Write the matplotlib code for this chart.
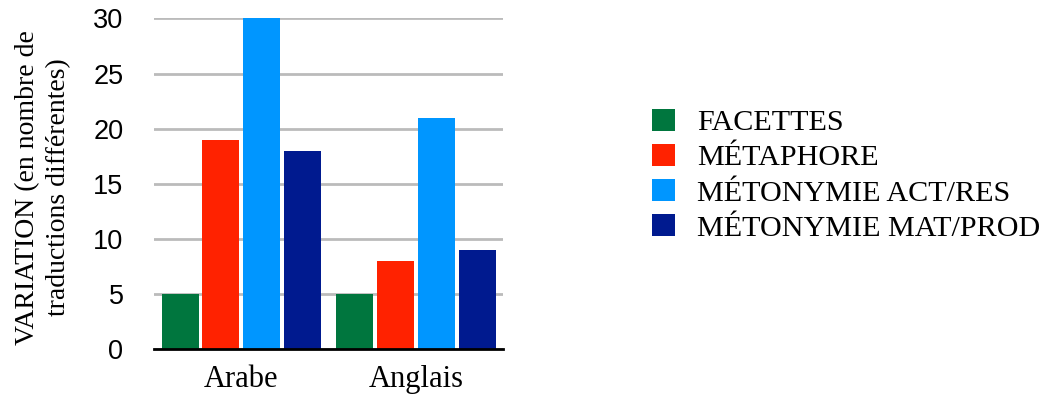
import numpy as np
import matplotlib.pyplot as plt
from matplotlib.patches import Patch

# languages on the x axis and one series per translation type
langues = ["Arabe", "Anglais"]
series = ["FACETTES", "MÉTAPHORE", "MÉTONYMIE ACT/RES", "MÉTONYMIE MAT/PROD"]
facettes = [5, 5]
metaphore = [19, 8]
metonymie_act = [30, 21]
metonymie_mat = [18, 9]
couleurs = ["#00763e", "#ff2200", "#0096ff", "#001a8f"]

serif = "Liberation Serif"
sans = "Liberation Sans"

fig = plt.figure(figsize=(10.45, 3.98), dpi=100)
ax = fig.add_axes([0.1474, 0.1219, 0.334, 0.8317])

x = np.arange(len(langues))
pas = 0.234
largeur = 0.212
valeurs = [facettes, metaphore, metonymie_act, metonymie_mat]
for i, (vals, c) in enumerate(zip(valeurs, couleurs)):
    ax.bar(x + (i - 1.5) * pas, vals, width=largeur, color=c, zorder=3)

ax.set_xlim(-0.5, 1.5)
ax.set_ylim(0, 30)
ax.set_yticks(range(0, 31, 5))
ax.set_xticks(x)
ax.set_xticklabels(langues, fontfamily=serif, fontsize=22)
for lab in ax.get_yticklabels():
    lab.set_fontfamily(sans)
    lab.set_fontsize(19.5)
ax.tick_params(axis="y", length=0, pad=22)
ax.tick_params(axis="x", length=0, pad=11)

ax.grid(axis="y", color="#bbbbbb", linewidth=2, zorder=0)
for s in ["top", "right", "left"]:
    ax.spines[s].set_visible(False)
ax.spines["bottom"].set_linewidth(2)
ax.spines["bottom"].set_zorder(4)

ax.set_ylabel("VARIATION (en nombre de\ntraductions différentes)",
              fontfamily=serif, fontsize=20, linespacing=1.28)
ax.yaxis.set_label_coords(-0.238, 0.49)

handles = [Patch(facecolor=c) for c in couleurs]
fig.legend(handles, series, loc="center left",
           bbox_to_anchor=(652 / 1045, 0.56), frameon=False,
           prop={"family": serif, "size": 21.7},
           handlelength=0.76, handleheight=0.76, handletextpad=0.73,
           labelspacing=0.25, borderpad=0, borderaxespad=0)

fig.savefig("out.png", dpi=100)
